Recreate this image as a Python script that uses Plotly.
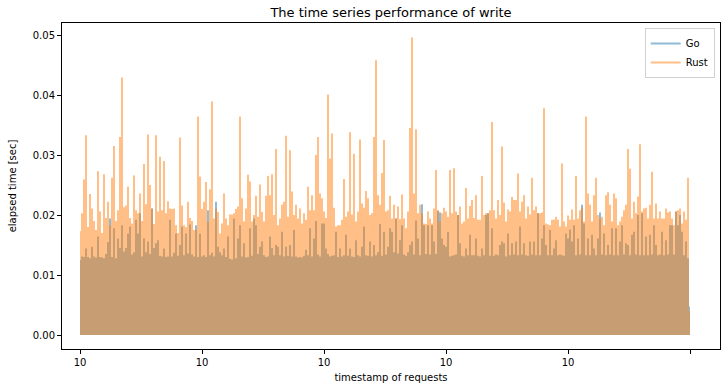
import plotly.graph_objects as go

# Upper envelope of elapsed time [sec] per 2-px column
rust_elapsed = [
    0.0173, 0.0203, 0.0259, 0.0333, 0.018, 0.0235, 0.0211, 0.019, 0.0175, 0.0273,
    0.0206, 0.017, 0.0268, 0.0195, 0.0222, 0.0183, 0.0262, 0.0315, 0.019, 0.0208,
    0.033, 0.0429, 0.0213, 0.0216, 0.0247, 0.0195, 0.0186, 0.0266, 0.0208, 0.0203,
    0.0236, 0.019, 0.0285, 0.0218, 0.0334, 0.025, 0.0211, 0.0185, 0.0333, 0.0206,
    0.0297, 0.0208, 0.029, 0.0203, 0.0223, 0.0211, 0.021, 0.0211, 0.0183, 0.017,
    0.0329, 0.0216, 0.0183, 0.018, 0.0222, 0.0195, 0.019, 0.0175, 0.0176, 0.0364,
    0.0264,
    0.021, 0.0222, 0.0255, 0.0189, 0.0243, 0.0389, 0.0194, 0.0211, 0.0205, 0.0169,
    0.0186, 0.0236, 0.0194, 0.0183, 0.0201, 0.0201, 0.0203, 0.021, 0.0214, 0.0364,
    0.0228, 0.0189, 0.0211, 0.0267, 0.0256, 0.0189, 0.02, 0.0232, 0.0197, 0.0251,
    0.0205, 0.0189, 0.0232, 0.0265, 0.0233, 0.0268, 0.02, 0.031, 0.0183, 0.0194,
    0.0217, 0.0222, 0.0332, 0.0197, 0.0308, 0.0239, 0.02, 0.0217, 0.0194, 0.0211,
    0.0186, 0.0203, 0.0192, 0.0247, 0.0208, 0.0233, 0.0208, 0.03, 0.033, 0.0236, 0.0228,
    0.0206, 0.0195, 0.0401, 0.0294, 0.0336, 0.0212, 0.0181, 0.0183, 0.0183, 0.0192,
    0.026, 0.0197, 0.0206, 0.0338, 0.0201, 0.0302, 0.0189, 0.0206, 0.0326, 0.0219,
    0.0212, 0.024, 0.0228, 0.02, 0.0203, 0.033, 0.0458, 0.0233, 0.0217, 0.027,
    0.0325, 0.0206, 0.0208, 0.0232, 0.0194, 0.0217, 0.0194, 0.0214, 0.0193, 0.0234,
    0.0194, 0.0178, 0.0206, 0.0345, 0.0496, 0.0236, 0.0343, 0.0203, 0.0217, 0.0203,
    0.0186, 0.0185, 0.0206, 0.0194, 0.0186, 0.0211, 0.0275, 0.0208, 0.0189, 0.0203, 0.0212,
    0.0206, 0.0197, 0.0275, 0.0203, 0.0278, 0.0206, 0.02, 0.0214, 0.0186, 0.0189,
    0.0245, 0.0194, 0.0215, 0.0225, 0.0195, 0.0233, 0.0192, 0.0192, 0.0265, 0.02,
    0.0203, 0.0203, 0.0208, 0.0355, 0.0208, 0.0194, 0.0225, 0.02, 0.0314, 0.0221,
    0.0189, 0.0209, 0.0206, 0.023, 0.0225, 0.0225, 0.0269, 0.0206, 0.0222, 0.0233,
    0.0194, 0.0214, 0.0201, 0.0262, 0.0208, 0.0214, 0.0203, 0.0203, 0.0204, 0.0378,
    0.0186, 0.0184, 0.0183, 0.0192, 0.0192, 0.0197, 0.0192, 0.0181, 0.0286, 0.0189, 0.0181,
    0.0199, 0.0192, 0.0209, 0.0192, 0.0265, 0.0194, 0.0208, 0.0213, 0.0189, 0.0364,
    0.0236, 0.0217, 0.0189, 0.0233, 0.0262, 0.02, 0.0194, 0.0197, 0.0183, 0.0233,
    0.0238, 0.0217, 0.0189, 0.0236, 0.0228, 0.0183, 0.0189, 0.0197, 0.0208, 0.0217,
    0.031, 0.0277, 0.0194, 0.0222, 0.0203, 0.0231, 0.0318, 0.0206, 0.0211, 0.0212,
    0.0194, 0.0217, 0.0272, 0.0194, 0.0219, 0.0194, 0.0206, 0.0194, 0.0194, 0.0211,
    0.0204, 0.0206, 0.0194, 0.0183, 0.0206, 0.0208, 0.0211, 0.0186, 0.0206, 0.0192, 0.0262, 0.004,
]

go_elapsed = [
    0.0125, 0.0131, 0.013, 0.0144, 0.013, 0.0128, 0.0147, 0.0131, 0.0129, 0.0164,
    0.013, 0.0129, 0.0128, 0.0135, 0.0155, 0.0194, 0.013, 0.0178, 0.0128, 0.0161,
    0.0145, 0.0183, 0.0139, 0.0145, 0.0169, 0.0181, 0.0134, 0.0138, 0.0192, 0.0169,
    0.0203, 0.0131, 0.0161, 0.0138, 0.0156, 0.0135, 0.0211, 0.0145, 0.0153, 0.0158,
    0.0132, 0.0131, 0.0144, 0.013, 0.0131, 0.0192, 0.0131, 0.0137, 0.0169, 0.0132,
    0.015, 0.0181, 0.0133, 0.0169, 0.0136, 0.0184, 0.0134, 0.0131, 0.0183, 0.013, 0.0169,
    0.0131, 0.0133, 0.013, 0.0208, 0.0133, 0.0137, 0.0131, 0.0222, 0.0147, 0.0138,
    0.0133, 0.0144, 0.013, 0.0164, 0.0127, 0.0126, 0.0194, 0.0128, 0.0161, 0.0183,
    0.0131, 0.0153, 0.0129, 0.013, 0.0178, 0.0132, 0.0194, 0.0183, 0.0135, 0.0147,
    0.0156, 0.0133, 0.013, 0.0131, 0.0164, 0.0145, 0.0133, 0.015, 0.0147, 0.0133,
    0.0172, 0.0131, 0.0147, 0.0132, 0.015, 0.0131, 0.0175, 0.0131, 0.0129, 0.013,
    0.0129, 0.0132, 0.0142, 0.0133, 0.0178, 0.0131, 0.0161, 0.019, 0.0134, 0.0131, 0.0186,
    0.0186, 0.0144, 0.0135, 0.0131, 0.0132, 0.0133, 0.0172, 0.013, 0.0144, 0.0131,
    0.0133, 0.0167, 0.0132, 0.0144, 0.0131, 0.013, 0.0158, 0.0133, 0.0131, 0.0147,
    0.0181, 0.0133, 0.0132, 0.0156, 0.0131, 0.015, 0.0133, 0.0138, 0.0185, 0.0132,
    0.0172, 0.0134, 0.0147, 0.0178, 0.0172, 0.0138, 0.0194, 0.0136, 0.0158, 0.0183,
    0.0134, 0.0132, 0.0138, 0.015, 0.0156, 0.0134, 0.0191, 0.0161, 0.0133, 0.0218,
    0.0183, 0.0135, 0.0183, 0.0134, 0.0183, 0.0156, 0.0135, 0.0207, 0.0204, 0.0161, 0.015,
    0.0147, 0.0172, 0.0131, 0.0132, 0.0133, 0.0134, 0.02, 0.0153, 0.0132, 0.0131,
    0.0144, 0.0133, 0.0167, 0.0133, 0.0133, 0.0161, 0.0132, 0.0131, 0.0144, 0.0133,
    0.02, 0.0203, 0.0132, 0.0178, 0.0132, 0.0134, 0.0133, 0.015, 0.0156, 0.0153,
    0.0131, 0.0169, 0.0133, 0.0153, 0.0134, 0.0156, 0.0133, 0.0181, 0.0134, 0.0153,
    0.0133, 0.0132, 0.0156, 0.0134, 0.0156, 0.0133, 0.0203, 0.0133, 0.0161, 0.0183,
    0.015, 0.0133, 0.0175, 0.0133, 0.0144, 0.0158, 0.0133, 0.0134, 0.0133, 0.0132, 0.0169,
    0.0161, 0.0176, 0.0156, 0.0183, 0.0133, 0.0161, 0.0134, 0.0217, 0.0186, 0.0133,
    0.0161, 0.0133, 0.0167, 0.0144, 0.0133, 0.0161, 0.0204, 0.0134, 0.0169, 0.0133,
    0.015, 0.0134, 0.0178, 0.0133, 0.0178, 0.0133, 0.0156, 0.0183, 0.0134, 0.0153,
    0.015, 0.0133, 0.0167, 0.0172, 0.0134, 0.02, 0.0133, 0.0203, 0.0133, 0.0164,
    0.0133, 0.0167, 0.0134, 0.0183, 0.015, 0.0133, 0.0134, 0.0172, 0.0133, 0.0158,
    0.0134, 0.0183, 0.0183, 0.0134, 0.0206, 0.0183, 0.02, 0.0172, 0.0133, 0.0156, 0.0128, 0.0048,
]

request_index = list(range(len(rust_elapsed)))
tick_positions = [0, 61, 122, 183, 244, 305]
tick_labels = ["10", "10", "10", "10", "10", ""]
y_ticks = [0.0, 0.01, 0.02, 0.03, 0.04, 0.05]

GO_FILL = "rgba(31,119,180,0.5)"
RUST_FILL = "rgba(255,127,14,0.5)"

fig = go.Figure()
fig.add_trace(go.Scatter(
    x=request_index, y=go_elapsed, mode="lines", line=dict(width=0, shape="hvh"),
    fill="tozeroy", fillcolor=GO_FILL, showlegend=False, hoverinfo="skip"))
fig.add_trace(go.Scatter(
    x=request_index, y=rust_elapsed, mode="lines", line=dict(width=0, shape="hvh"),
    fill="tozeroy", fillcolor=RUST_FILL, showlegend=False, hoverinfo="skip"))
# legend entries
fig.add_trace(go.Scatter(x=[None], y=[None], mode="lines", name="Go",
                         line=dict(color=GO_FILL, width=2)))
fig.add_trace(go.Scatter(x=[None], y=[None], mode="lines", name="Rust",
                         line=dict(color=RUST_FILL, width=2)))

font_family = "DejaVu Sans, sans-serif"
fig.update_layout(
    width=727, height=387,
    margin=dict(l=62, r=7, t=23, b=38, autoexpand=False),
    paper_bgcolor="white", plot_bgcolor="white",
    font=dict(family=font_family, size=10, color="black"),
    title=dict(text="The time series performance of write", x=0.5, xref="paper",
               y=1 - 12 / 387, yref="container", yanchor="middle",
               font=dict(size=13, color="black")),
    legend=dict(x=0.992, y=0.985, xanchor="right", yanchor="top",
                bordercolor="#d0d0d0", borderwidth=1, bgcolor="rgba(255,255,255,0.8)",
                font=dict(size=10), itemwidth=30, tracegroupgap=0),
)
fig.update_xaxes(
    range=[-9, 320], tickmode="array", tickvals=tick_positions, ticktext=tick_labels,
    showgrid=False, zeroline=False, showline=True, linecolor="black", linewidth=1,
    mirror=True, ticks="outside", ticklen=4, tickcolor="black",
    title=dict(text="timestamp of requests", standoff=6, font=dict(size=10)),
)
fig.update_yaxes(
    range=[-0.00233, 0.052], tickmode="array", tickvals=y_ticks, tickformat=".2f",
    showgrid=False, zeroline=False, showline=True, linecolor="black", linewidth=1,
    mirror=True, ticks="outside", ticklen=4, tickcolor="black",
    title=dict(text="elapsed time [sec]", standoff=14, font=dict(size=10)),
)

fig.write_html(
    "out.html",
    config={"displayModeBar": False},
    post_script="document.body.style.margin='0';document.body.style.overflow='hidden';",
)
